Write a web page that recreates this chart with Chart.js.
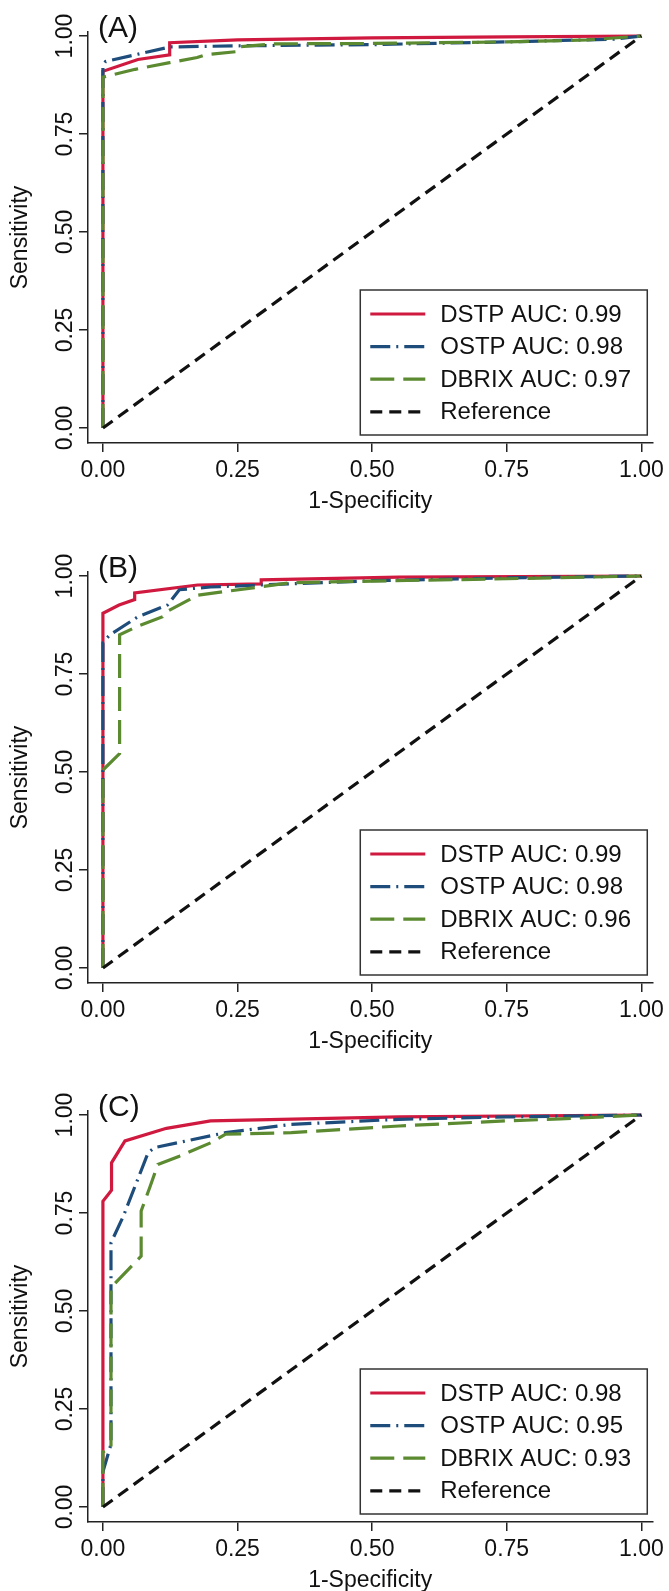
<!DOCTYPE html>
<html>
<head>
<meta charset="utf-8">
<script src="https://cdn.jsdelivr.net/npm/chart.js@4/dist/chart.umd.min.js"></script>
<style>
  body { margin: 0; background: #fff; }
  .panel { position: absolute; left: 0; width: 669px; height: 530px; }
</style>
</head>
<body>
<div class="panel" style="top:0px"><canvas id="rocA" width="669" height="530"></canvas></div>
<div class="panel" style="top:540px"><canvas id="rocB" width="669" height="530"></canvas></div>
<div class="panel" style="top:1079px"><canvas id="rocC" width="669" height="530"></canvas></div>
<script>
// axis ticks and legend names
const tickValues = [0, 0.25, 0.5, 0.75, 1];
const seriesNames = ['DSTP', 'OSTP', 'DBRIX'];
const aucA = [0.99, 0.98, 0.97];
const aucB = [0.99, 0.98, 0.96];
const aucC = [0.98, 0.95, 0.93];
const referenceLine = [0, 1];

// (A) ROC points: 1-specificity / sensitivity
const dstpA_fpr = [0, 0, 0.065, 0.124, 0.124, 0.25, 0.5, 0.75, 1];
const dstpA_tpr = [0, 0.91, 0.94, 0.952, 0.983, 0.99, 0.995, 0.998, 1];
const ostpA_fpr = [0, 0, 0.005, 0.124, 0.25, 0.5, 0.75, 0.95, 1];
const ostpA_tpr = [0, 0.925, 0.935, 0.972, 0.975, 0.978, 0.985, 0.992, 1];
const dbrixA_fpr = [0, 0, 0.06, 0.124, 0.175, 0.19, 0.247, 0.25, 0.32, 0.5, 0.75, 0.9, 1];
const dbrixA_tpr = [0, 0.895, 0.915, 0.932, 0.945, 0.952, 0.96, 0.972, 0.98, 0.981, 0.985, 0.99, 1];

// (B)
const dstpB_fpr = [0, 0, 0.03, 0.059, 0.059, 0.176, 0.294, 0.294, 0.55, 1];
const dstpB_tpr = [0, 0.905, 0.926, 0.94, 0.957, 0.977, 0.98, 0.99, 0.997, 1];
const ostpB_fpr = [0, 0, 0.013, 0.065, 0.12, 0.142, 0.2, 0.35, 0.5, 0.75, 1];
const ostpB_tpr = [0, 0.83, 0.85, 0.896, 0.926, 0.965, 0.972, 0.98, 0.988, 0.995, 1];
const dbrixB_fpr = [0, 0, 0.031, 0.031, 0.065, 0.111, 0.12, 0.176, 0.35, 0.5, 0.75, 1];
const dbrixB_tpr = [0, 0.505, 0.547, 0.85, 0.872, 0.896, 0.91, 0.951, 0.983, 0.987, 0.993, 1];

// (C)
const dstpC_fpr = [0, 0, 0.016, 0.016, 0.041, 0.118, 0.2, 0.55, 1];
const dstpC_tpr = [0, 0.78, 0.808, 0.878, 0.934, 0.966, 0.985, 0.995, 1];
const ostpC_fpr = [0, 0, 0.015, 0.015, 0.038, 0.084, 0.096, 0.228, 0.35, 0.55, 0.75, 1];
const ostpC_tpr = [0, 0.09, 0.16, 0.674, 0.742, 0.904, 0.917, 0.955, 0.976, 0.989, 0.995, 1];
const dbrixC_fpr = [0, 0, 0.01, 0.015, 0.015, 0.071, 0.071, 0.087, 0.102, 0.142, 0.2, 0.228, 0.35, 0.55, 0.75, 0.85, 1];
const dbrixC_tpr = [0, 0.14, 0.15, 0.15, 0.56, 0.64, 0.755, 0.815, 0.874, 0.895, 0.929, 0.951, 0.955, 0.972, 0.985, 0.99, 1];

// styles
const lineColors = ['#D0193F', '#1E4D7B', '#5B8A30'];
const lineDashes = [[], [20, 6, 2, 6], [24, 9]];
const refDash = [12, 7];
const family = "'Liberation Sans', Arial, sans-serif";
const axisFont = { family, size: 23 };

const toPoints = (xs, ys) => xs.map((x, i) => ({ x, y: ys[i] }));

const makeDatasets = (curves, aucs) => [
  ...curves.map((c, i) => ({
    label: `${seriesNames[i]} AUC: ${aucs[i].toFixed(2)}`,
    data: toPoints(c[0], c[1]),
    borderColor: lineColors[i],
    borderDash: lineDashes[i],
    order: 4 - i
  })),
  {
    label: 'Reference',
    data: toPoints(referenceLine, referenceLine),
    borderColor: '#111',
    borderDash: refDash,
    order: 0
  }
].map(ds => ({ ...ds, showLine: true, pointRadius: 0, borderWidth: 3.2, fill: false, tension: 0 }));

// rotated y tick labels, panel letter and the boxed legend
const panelText = {
  id: 'panelText',
  afterDraw(chart, args, opts) {
    const { ctx, chartArea, scales: { y } } = chart;
    ctx.save();
    ctx.fillStyle = '#111';
    ctx.font = `23px ${family}`;
    ctx.textAlign = 'center';
    ctx.textBaseline = 'alphabetic';
    tickValues.forEach(v => {
      ctx.save();
      ctx.translate(72, y.getPixelForValue(v));
      ctx.rotate(-Math.PI / 2);
      ctx.fillText(v.toFixed(2), 0, 0);
      ctx.restore();
    });

    ctx.font = `30px ${family}`;
    ctx.textAlign = 'left';
    ctx.fillText(`(${opts.letter})`, 98, 37);

    // legend box
    const right = chartArea.right - 5;
    const left = right - 287;
    const bottom = chartArea.bottom - 8;
    const top = bottom - 145;
    ctx.fillStyle = '#fff';
    ctx.fillRect(left, top, right - left, bottom - top);
    ctx.strokeStyle = '#333';
    ctx.lineWidth = 1.5;
    ctx.setLineDash([]);
    ctx.strokeRect(left, top, right - left, bottom - top);

    ctx.font = `24px ${family}`;
    ctx.textBaseline = 'middle';
    chart.data.datasets.forEach((ds, i) => {
      const yy = top + 24 + i * 32.6;
      ctx.beginPath();
      ctx.setLineDash(ds.borderDash);
      ctx.strokeStyle = ds.borderColor;
      ctx.lineWidth = 3.2;
      ctx.moveTo(left + 10, yy);
      ctx.lineTo(left + 65, yy);
      ctx.stroke();
      ctx.fillStyle = '#111';
      ctx.fillText(ds.label, left + 80, yy + 1);
    });
    ctx.restore();
  }
};

const setTicks = scale => { scale.ticks = tickValues.map(v => ({ value: v })); };
const axisGrid = { display: true, drawOnChartArea: false, drawTicks: true, tickLength: 9, color: '#222', lineWidth: 1.5 };
const axisBorder = { display: true, color: '#222', width: 1.5 };

const makeOptions = letter => ({
  responsive: false,
  animation: false,
  layout: { autoPadding: false, padding: { left: 0, right: 14, top: 32, bottom: 0 } },
  plugins: { legend: { display: false }, tooltip: { enabled: false }, panelText: { letter } },
  scales: {
    x: {
      type: 'linear', min: -0.0277, max: 1.0203,
      afterBuildTicks: setTicks,
      afterFit: s => { s.height = 87; },
      ticks: { font: axisFont, color: '#111', padding: 5, maxRotation: 0, callback: v => Number(v).toFixed(2) },
      grid: axisGrid,
      border: axisBorder,
      title: { display: true, text: '1-Specificity', font: axisFont, color: '#111', padding: { top: 0, bottom: 15 } }
    },
    y: {
      type: 'linear', min: -0.0383, max: 1.0102,
      afterBuildTicks: setTicks,
      afterFit: s => { s.width = 88; },
      ticks: { display: false },
      grid: axisGrid,
      border: axisBorder,
      title: { display: true, text: 'Sensitivity', font: axisFont, color: '#111', padding: { top: 7, bottom: 0 } }
    }
  }
});

const drawRoc = (canvasId, letter, curves, aucs) => new Chart(document.getElementById(canvasId), {
  type: 'scatter',
  data: { datasets: makeDatasets(curves, aucs) },
  options: makeOptions(letter),
  plugins: [panelText]
});

drawRoc('rocA', 'A', [[dstpA_fpr, dstpA_tpr], [ostpA_fpr, ostpA_tpr], [dbrixA_fpr, dbrixA_tpr]], aucA);
drawRoc('rocB', 'B', [[dstpB_fpr, dstpB_tpr], [ostpB_fpr, ostpB_tpr], [dbrixB_fpr, dbrixB_tpr]], aucB);
drawRoc('rocC', 'C', [[dstpC_fpr, dstpC_tpr], [ostpC_fpr, ostpC_tpr], [dbrixC_fpr, dbrixC_tpr]], aucC);
</script>
</body>
</html>
